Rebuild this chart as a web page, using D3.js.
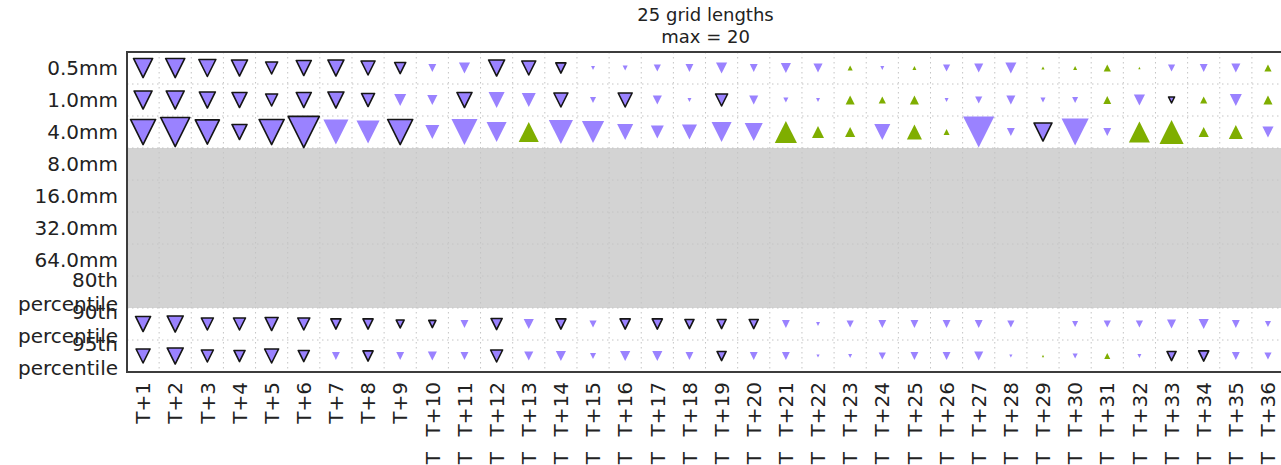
<!DOCTYPE html>
<html>
<head>
<meta charset="utf-8">
<script src="https://cdn.jsdelivr.net/npm/d3@7"></script>
<style>
  body { margin: 0; background: #fff; }
  svg { display: block; }
  text { font-family: "DejaVu Sans", sans-serif; fill: #222; }
</style>
</head>
<body>
<svg id="chart" width="1281" height="465"></svg>
<script>
// Lead times (columns)
const leadTimes = ["T+1","T+2","T+3","T+4","T+5","T+6","T+7","T+8","T+9","T+10",
  "T+11","T+12","T+13","T+14","T+15","T+16","T+17","T+18","T+19","T+20",
  "T+21","T+22","T+23","T+24","T+25","T+26","T+27","T+28","T+29","T+30",
  "T+31","T+32","T+33","T+34","T+35","T+36"];

// Thresholds (rows)
const thresholds = ["0.5mm","1.0mm","4.0mm","8.0mm","16.0mm","32.0mm","64.0mm",
  "80th\npercentile","90th\npercentile","95th\npercentile"];

// Rows without any data (shaded)
const emptyRows = ["8.0mm","16.0mm","32.0mm","64.0mm","80th\npercentile"];

// Score differences per threshold; negative = worse (down), positive = better (up)
const diff05 = [-7.1,-7.1,-5.6,-5.0,-2.8,-4.4,-5.0,-3.8,-2.4,-1.2,
  -2.4,-5.0,-3.8,-2.0,-0.3,-0.5,-1.0,-1.2,-2.4,-1.2,
  -2.0,-1.6,0.5,-0.3,0.3,-1.0,-1.6,-2.4,0.2,0.3,
  1.0,0.1,-1.0,-1.2,-1.6,1.0];
const diff10 = [-6.3,-6.3,-5.0,-4.4,-2.8,-4.4,-5.0,-3.3,-2.8,-2.0,
  -4.4,-5.0,-3.8,-3.8,-0.7,-3.8,-1.6,-0.3,-2.8,-1.6,
  -0.5,-0.3,1.6,1.0,1.6,-0.3,-1.0,-1.6,-0.5,-0.7,
  1.2,-2.4,-0.7,1.0,-2.8,1.6];
const diff40 = [-12.2,-16.4,-11.3,-4.4,-12.2,-18.8,-12.2,-10.3,-12.2,-3.8,
  -13.2,-7.8,7.8,-11.3,-9.5,-5.0,-3.3,-4.4,-7.8,-6.3,
  9.5,2.8,2.0,-5.0,4.4,0.7,-18.8,-1.2,-6.3,-14.2,
  -1.2,8.6,11.3,2.0,3.8,-2.4];
const diff90 = [-4.4,-5.0,-2.8,-2.8,-3.3,-2.8,-2.0,-2.0,-1.2,-1.0,
  -1.2,-2.4,-2.0,-2.0,-1.0,-2.0,-2.0,-1.6,-1.6,-1.6,
  -1.2,-0.3,-1.0,-1.2,-1.2,-1.2,-1.2,-1.0,0,-0.7,
  -1.0,-1.0,-1.6,-2.0,-1.2,-0.7];
const diff95 = [-3.8,-5.0,-2.8,-2.4,-3.8,-2.4,-1.2,-2.0,-1.2,-1.6,
  -1.2,-2.8,-1.6,-2.0,-0.7,-2.0,-2.0,-1.2,-1.6,-1.2,
  -1.2,-0.2,-0.3,-1.0,-1.2,-1.2,-1.6,-0.2,0.1,-0.5,
  0.7,-0.3,-1.6,-2.0,-1.2,-1.0];

// Lead times flagged as significant (drawn with an outline)
const signif05 = [1,2,3,4,5,6,7,8,9,12,13,14];
const signif10 = [1,2,3,4,5,6,7,8,11,14,16,19,33];
const signif40 = [1,2,3,4,5,6,9,29];
const signif90 = [1,2,3,4,5,6,7,8,9,10,12,14,16,17,18,19,20];
const signif95 = [1,2,3,4,5,6,8,12,19,33,34];

const titleLines = ["25 grid lengths", "max = 20"];
const maxValue = 20;

// Build the long table of marks
const series = [
  { row: "0.5mm", values: diff05, signif: signif05 },
  { row: "1.0mm", values: diff10, signif: signif10 },
  { row: "4.0mm", values: diff40, signif: signif40 },
  { row: "90th\npercentile", values: diff90, signif: signif90 },
  { row: "95th\npercentile", values: diff95, signif: signif95 }
];
const marks = [];
series.forEach(s => s.values.forEach((v, i) => {
  marks.push({ row: s.row, col: leadTimes[i], value: v, signif: s.signif.includes(i + 1) });
}));

const svg = d3.select("#chart");
const plotLeft = 127, plotTop = 52, cellW = 32.14, cellH = 32;

const x = d3.scaleBand().domain(leadTimes).range([plotLeft, plotLeft + leadTimes.length * cellW]);
const y = d3.scaleBand().domain(thresholds).range([plotTop, plotTop + thresholds.length * cellH]);
const size = d3.scaleSqrt().domain([0, maxValue]).range([0, x.bandwidth()]);
const plotRight = x.range()[1], plotBottom = y.range()[1];

// Shaded rows with no data
const shadeTop = y(emptyRows[0]);
const shadeBottom = y(emptyRows[emptyRows.length - 1]) + y.bandwidth();
svg.append("rect")
  .attr("x", plotLeft).attr("y", shadeTop)
  .attr("width", plotRight - plotLeft).attr("height", shadeBottom - shadeTop)
  .attr("fill", "#d3d3d3");

// Dotted grid at cell boundaries
const grid = svg.append("g").attr("stroke", "#c4c4c4").attr("stroke-width", 1)
  .attr("stroke-dasharray", "1.5,3.5");
leadTimes.slice(1).forEach(c => {
  grid.append("line").attr("x1", x(c)).attr("x2", x(c))
    .attr("y1", plotTop).attr("y2", plotBottom);
});
thresholds.slice(1).forEach(r => {
  grid.append("line").attr("x1", plotLeft).attr("x2", plotRight)
    .attr("y1", y(r)).attr("y2", y(r));
});

// Triangles: up for positive, down for negative; side length from sqrt scale
function triangle(side, up) {
  const h = side / 2;
  return up ? `M0,${-h}L${h},${h}L${-h},${h}Z` : `M0,${h}L${h},${-h}L${-h},${-h}Z`;
}
svg.append("g").selectAll("path")
  .data(marks.filter(d => d.value !== 0))
  .join("path")
  .attr("transform", d => `translate(${x(d.col) + x.bandwidth() / 2},${y(d.row) + y.bandwidth() / 2})`)
  .attr("d", d => triangle(size(Math.abs(d.value)), d.value > 0))
  .attr("fill", d => d.value > 0 ? "#7fae00" : "#9a82ff")
  .attr("stroke", d => d.signif ? "#151515" : "none")
  .attr("stroke-width", 1.6)
  .attr("stroke-linejoin", "round");

// Frame
svg.append("rect")
  .attr("x", plotLeft).attr("y", plotTop)
  .attr("width", plotRight - plotLeft).attr("height", plotBottom - plotTop)
  .attr("fill", "none").attr("stroke", "#3c3c3c").attr("stroke-width", 2);

// Y axis labels (multi-line where needed)
const yAxis = svg.append("g")
  .attr("transform", `translate(${plotLeft},0)`)
  .call(d3.axisLeft(y).tickSize(0).tickPadding(9));
yAxis.select(".domain").remove();
yAxis.selectAll("text")
  .attr("font-size", 20).attr("font-family", "DejaVu Sans").attr("fill", "#222")
  .each(function(d) {
    const lines = d.split("\n");
    const t = d3.select(this).text(null).attr("dy", null);
    lines.forEach((ln, i) => {
      t.append("tspan")
        .attr("x", -9)
        .attr("dy", i === 0 ? (0.33 - (lines.length - 1) * 0.6) + "em" : "1.2em")
        .text(ln);
    });
  });

// X axis labels, rotated
const xAxis = svg.append("g")
  .attr("transform", `translate(0,${plotBottom})`)
  .call(d3.axisBottom(x).tickSize(0).tickPadding(0));
xAxis.select(".domain").remove();
xAxis.selectAll("text")
  .attr("font-size", 20).attr("font-family", "DejaVu Sans").attr("fill", "#222")
  .attr("transform", "rotate(-90)")
  .attr("text-anchor", "end")
  .attr("x", -10).attr("y", 0).attr("dy", "0.36em");

// Second label line for the two-digit lead times
xAxis.selectAll(".tick").filter(d => d.length > 3)
  .append("text")
  .attr("font-size", 20).attr("fill", "#222")
  .attr("transform", "rotate(-90)")
  .attr("text-anchor", "end")
  .attr("x", -80).attr("y", 0).attr("dy", "0.36em")
  .text("T");

// Title
svg.append("g").selectAll("text")
  .data(titleLines)
  .join("text")
  .attr("x", (plotLeft + plotRight) / 2)
  .attr("y", (d, i) => 21 + i * 22)
  .attr("text-anchor", "middle")
  .attr("font-size", 18)
  .text(d => d);
</script>
</body>
</html>
